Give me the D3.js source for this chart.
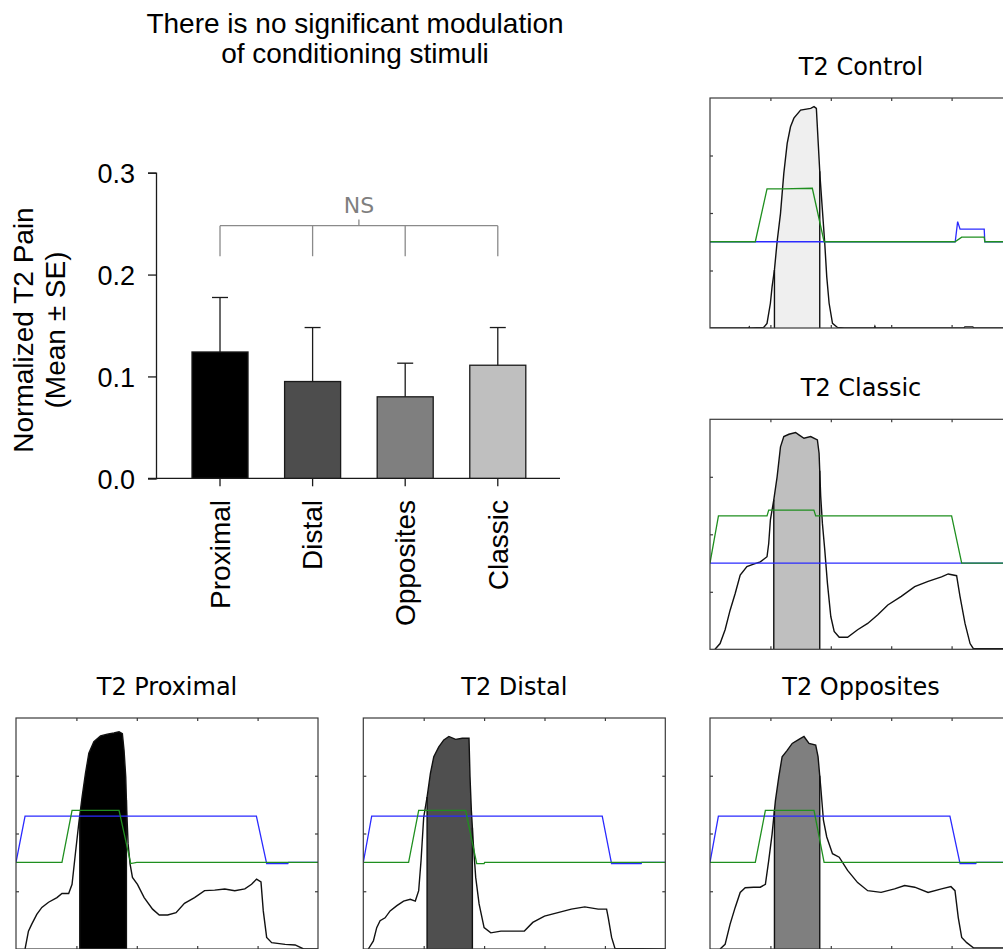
<!DOCTYPE html>
<html><head><meta charset="utf-8">
<script src="https://cdn.jsdelivr.net/npm/d3@7"></script>
<style>body{margin:0;background:#fff}svg{display:block}</style>
</head><body>
<svg id="c" width="1003" height="949"></svg>
<script>
// ---------- bar chart data ----------
const categories = ["Proximal", "Distal", "Opposites", "Classic"];
const means = [0.124, 0.095, 0.080, 0.111];
const errors = [0.0535, 0.053, 0.033, 0.037];
const barColors = ["#000000", "#4d4d4d", "#7f7f7f", "#bfbfbf"];
const yTicks = [0, 0.1, 0.2, 0.3];
const bracketLevels = [0.248, 0.218, 0.254]; // bar, drop bottoms, centre tick

// ---------- trace panels data (x: 0-5 units, y: 0-4 units) ----------
const controlPain = [[0,0],[0.639,0],[0.65,0.02],[0.66,0],[0.889,0.01],[0.944,0.08],[1.0,0.43],[1.028,0.72],[1.067,1.01],[1.111,1.50],[1.167,1.99],[1.222,2.69],[1.278,3.21],[1.333,3.50],[1.389,3.65],[1.5,3.79],[1.667,3.82],[1.722,3.85],[1.761,3.82],[1.789,3.27],[1.822,2.63],[1.861,2.05],[1.9,1.47],[1.933,0.89],[1.972,0.43],[2.028,0.08],[2.111,0.01],[2.222,0],[2.72,0],[2.73,0.03],[2.74,0],[4.2,0],[4.22,0.02],[4.35,0.02],[4.37,0],[5.1,0]];
const controlBlue = [[0,1.5],[4.06,1.5],[4.1,1.85],[4.14,1.72],[4.54,1.72],[4.55,1.5],[5.1,1.5]];
const controlGreen = [[0,1.5],[0.75,1.5],[0.944,2.42],[1.2,2.42],[1.694,2.43],[1.889,1.5],[4.056,1.5],[4.167,1.58],[4.54,1.58],[4.55,1.5],[5.1,1.5]];
const controlShade = [1.067, 1.817];

const classicPain = [[0.083,0],[0.167,0.10],[0.25,0.34],[0.333,0.68],[0.417,0.97],[0.5,1.29],[0.611,1.44],[0.722,1.48],[0.833,1.52],[0.944,1.61],[0.972,1.84],[1.0,2.25],[1.056,2.60],[1.111,3.0],[1.167,3.52],[1.222,3.70],[1.306,3.74],[1.417,3.77],[1.472,3.73],[1.556,3.67],[1.667,3.70],[1.778,3.64],[1.806,3.41],[1.833,2.66],[1.861,2.19],[1.9,1.73],[1.944,1.15],[2.0,0.57],[2.056,0.31],[2.139,0.21],[2.278,0.21],[2.444,0.34],[2.611,0.45],[2.778,0.60],[2.944,0.77],[3.167,0.92],[3.389,1.09],[3.611,1.18],[3.833,1.26],[3.944,1.31],[4.083,1.28],[4.139,0.92],[4.222,0.45],[4.306,0.10],[4.361,0.01],[5.1,0.01]];
const classicBlue = [[0,1.5],[5.1,1.5]];
const classicGreen = [[0,1.5],[0.14,2.32],[0.944,2.32],[0.972,2.42],[1.72,2.42],[1.75,2.32],[4.0,2.32],[4.167,1.5],[5.1,1.5]];
const classicShade = [1.056, 1.817];

const proximalPain = [[0.15,0],[0.206,0.31],[0.261,0.43],[0.344,0.60],[0.428,0.72],[0.539,0.81],[0.678,0.89],[0.761,0.96],[0.872,0.96],[0.928,1.12],[0.983,1.65],[1.039,2.17],[1.094,2.63],[1.15,3.04],[1.206,3.39],[1.289,3.59],[1.4,3.69],[1.511,3.72],[1.622,3.74],[1.706,3.76],[1.761,3.73],[1.789,3.44],[1.817,2.98],[1.833,2.40],[1.856,1.82],[1.889,1.47],[1.928,1.24],[2.011,1.12],[2.122,0.89],[2.261,0.69],[2.372,0.59],[2.511,0.59],[2.65,0.63],[2.789,0.79],[2.956,0.89],[3.122,1.01],[3.289,1.02],[3.456,1.04],[3.622,1.01],[3.789,1.04],[3.9,1.12],[3.983,1.21],[4.056,1.16],[4.094,0.66],[4.15,0.20],[4.233,0.11],[4.456,0.08],[4.622,0.07],[4.761,0],[5.1,0]];
const proximalBlue = [[0,1.5],[0.15,2.30],[3.98,2.30],[4.15,1.48],[4.5,1.48],[4.51,1.5],[5.1,1.5]];
const proximalGreen = [[0,1.5],[0.761,1.5],[0.928,2.40],[1.706,2.40],[1.9,1.48],[2.0,1.5],[5.1,1.5]];
const proximalShade = [1.056, 1.828];

const distalPain = [[0.083,0],[0.167,0.14],[0.222,0.37],[0.278,0.49],[0.361,0.54],[0.444,0.66],[0.556,0.75],[0.667,0.83],[0.778,0.86],[0.861,0.83],[0.917,1.01],[0.956,1.53],[1.0,2.28],[1.056,2.63],[1.111,3.04],[1.167,3.33],[1.25,3.50],[1.333,3.62],[1.417,3.68],[1.528,3.63],[1.639,3.65],[1.75,3.65],[1.767,2.98],[1.789,2.40],[1.822,1.82],[1.861,1.24],[1.917,0.78],[2.0,0.37],[2.111,0.28],[2.278,0.31],[2.444,0.31],[2.667,0.31],[2.806,0.46],[3.0,0.57],[3.222,0.63],[3.444,0.69],[3.667,0.73],[3.889,0.69],[4.028,0.69],[4.056,0.54],[4.111,0.20],[4.167,0.01],[5.1,0]];
const distalBlue = [[0,1.5],[0.139,2.30],[3.956,2.30],[4.11,1.48],[4.6,1.48],[4.61,1.5],[5.1,1.5]];
const distalGreen = [[0,1.5],[0.75,1.5],[0.917,2.40],[1.694,2.40],[1.878,1.48],[2.0,1.48],[2.01,1.5],[5.1,1.5]];
const distalShade = [1.056, 1.806];

const oppositesPain = [[0.167,0],[0.25,0.08],[0.333,0.43],[0.417,0.72],[0.5,0.98],[0.583,1.06],[0.722,1.07],[0.833,1.07],[0.917,1.12],[0.972,1.53],[1.028,1.99],[1.083,2.57],[1.139,2.98],[1.194,3.33],[1.278,3.44],[1.361,3.56],[1.472,3.63],[1.556,3.68],[1.639,3.56],[1.75,3.53],[1.789,3.33],[1.833,2.81],[1.878,2.23],[1.933,1.94],[2.028,1.65],[2.139,1.59],[2.278,1.36],[2.444,1.15],[2.611,1.01],[2.833,0.98],[3.056,1.04],[3.222,1.10],[3.389,1.07],[3.611,0.98],[3.833,1.04],[3.989,1.08],[4.056,1.01],[4.111,0.54],[4.167,0.20],[4.25,0.11],[4.361,0.02],[5.1,0.02]];
const oppositesBlue = [[0,1.5],[0.139,2.30],[3.972,2.30],[4.14,1.48],[4.4,1.48],[4.41,1.5],[5.1,1.5]];
const oppositesGreen = [[0,1.5],[0.75,1.5],[0.917,2.40],[1.722,2.40],[1.889,1.5],[5.1,1.5]];
const oppositesShade = [1.067, 1.817];

const panelTitles = ["T2 Control", "T2 Classic", "T2 Proximal", "T2 Distal", "T2 Opposites"];
const panelXTicks = [1, 2, 3, 4];
const panelYTicks = [1, 2, 3];

// ---------- drawing ----------
const svg = d3.select("#c");
const SANS = "'Liberation Sans', Arial, sans-serif";
const DEJA = "'DejaVu Sans', Verdana, sans-serif";
const INK = "#1a1a1a";

// Title
svg.append("text").attr("x", 355).attr("y", 33).attr("text-anchor", "middle")
  .attr("font-family", SANS).attr("font-size", 28).attr("fill", "#000")
  .text("There is no significant modulation");
svg.append("text").attr("x", 355).attr("y", 63).attr("text-anchor", "middle")
  .attr("font-family", SANS).attr("font-size", 28).attr("fill", "#000")
  .text("of conditioning stimuli");

// Bar chart
const x = d3.scaleBand().domain(categories).range([192, 525.8]).paddingInner(0.395).paddingOuter(0);
const y = d3.scaleLinear().domain([0, 0.3]).range([478.3, 172.7]);
const g = svg.append("g");

const yAxis = g.append("g").attr("transform", "translate(156,0)")
  .call(d3.axisLeft(y).tickValues(yTicks).tickFormat(d3.format(".1f")).tickSize(8).tickPadding(13));
yAxis.selectAll("path,line").attr("stroke", INK).attr("stroke-width", 1.3);
yAxis.selectAll("text").attr("font-family", SANS).attr("font-size", 27).attr("fill", "#000").attr("dy", "0.36em");

const xAxis = g.append("g").attr("transform", `translate(0,${y(0)})`)
  .call(d3.axisBottom(x).tickSize(8).tickSizeOuter(0));
xAxis.select(".domain").remove();
xAxis.selectAll("line").attr("stroke", INK).attr("stroke-width", 1.3);
xAxis.selectAll("text").attr("font-family", SANS).attr("font-size", 28).attr("fill", "#000")
  .attr("transform", "rotate(-90)").attr("text-anchor", "end")
  .attr("x", -(500 - y(0))).attr("y", 0).attr("dy", "0.35em");
g.append("line").attr("x1", 148).attr("x2", 560).attr("y1", y(0)).attr("y2", y(0))
  .attr("stroke", INK).attr("stroke-width", 1.3);

// Bars
g.selectAll("rect.bar").data(categories).join("rect").attr("class", "bar")
  .attr("x", d => x(d)).attr("width", x.bandwidth())
  .attr("y", (d, i) => y(means[i])).attr("height", (d, i) => y(0) - y(means[i]))
  .attr("fill", (d, i) => barColors[i]).attr("stroke", INK).attr("stroke-width", 1.3);

// Error bars (upper)
const cx = d => x(d) + x.bandwidth() / 2;
g.selectAll("line.err").data(categories).join("line").attr("class", "err")
  .attr("x1", cx).attr("x2", cx)
  .attr("y1", (d, i) => y(means[i])).attr("y2", (d, i) => y(means[i] + errors[i]))
  .attr("stroke", INK).attr("stroke-width", 1.3);
g.selectAll("line.cap").data(categories).join("line").attr("class", "cap")
  .attr("x1", d => cx(d) - 8).attr("x2", d => cx(d) + 8)
  .attr("y1", (d, i) => y(means[i] + errors[i])).attr("y2", (d, i) => y(means[i] + errors[i]))
  .attr("stroke", INK).attr("stroke-width", 1.3);

// NS bracket
const BR = "#8a8a8a";
const bx0 = cx(categories[0]), bx1 = cx(categories[categories.length - 1]);
g.append("line").attr("x1", bx0).attr("x2", bx1).attr("y1", y(bracketLevels[0])).attr("y2", y(bracketLevels[0]))
  .attr("stroke", BR).attr("stroke-width", 1.3);
g.selectAll("line.drop").data(categories).join("line").attr("class", "drop")
  .attr("x1", cx).attr("x2", cx).attr("y1", y(bracketLevels[0])).attr("y2", y(bracketLevels[1]))
  .attr("stroke", BR).attr("stroke-width", 1.3);
const bmid = (bx0 + bx1) / 2;
g.append("line").attr("x1", bmid).attr("x2", bmid).attr("y1", y(bracketLevels[0])).attr("y2", y(bracketLevels[2]))
  .attr("stroke", BR).attr("stroke-width", 1.3);
g.append("text").attr("x", bmid).attr("y", y(bracketLevels[2]) - 6.5).attr("text-anchor", "middle")
  .attr("font-family", DEJA).attr("font-size", 22).attr("fill", "#7f7f7f").text("NS");

// Y title
g.append("text").attr("transform", "translate(33,330) rotate(-90)").attr("text-anchor", "middle")
  .attr("font-family", SANS).attr("font-size", 28).attr("fill", "#000").text("Normalized T2 Pain");
g.append("text").attr("transform", "translate(65,330) rotate(-90)").attr("text-anchor", "middle")
  .attr("font-family", SANS).attr("font-size", 28).attr("fill", "#000").text("(Mean \u00b1 SE)");

// Panels
const panels = [
  {title: panelTitles[0], left: 710, top: 98, h: 230, pain: controlPain, blue: controlBlue, green: controlGreen, shade: controlShade, fill: "#efefef"},
  {title: panelTitles[1], left: 710, top: 419.3, h: 230, pain: classicPain, blue: classicBlue, green: classicGreen, shade: classicShade, fill: "#bfbfbf"},
  {title: panelTitles[2], left: 16, top: 718, h: 231, pain: proximalPain, blue: proximalBlue, green: proximalGreen, shade: proximalShade, fill: "#000000"},
  {title: panelTitles[3], left: 363.3, top: 718, h: 231, pain: distalPain, blue: distalBlue, green: distalGreen, shade: distalShade, fill: "#4f4f4f"},
  {title: panelTitles[4], left: 710, top: 718, h: 231, pain: oppositesPain, blue: oppositesBlue, green: oppositesGreen, shade: oppositesShade, fill: "#7f7f7f"}
];
const PW = 302;
const FRAME = "#3a3a3a";

function interp(pts, xv) {
  for (let i = 1; i < pts.length; i++) {
    if (pts[i][0] >= xv) {
      const [x0, y0] = pts[i - 1], [x1, y1] = pts[i];
      const t = (xv - x0) / (x1 - x0 || 1);
      return y0 + t * (y1 - y0);
    }
  }
  return pts[pts.length - 1][1];
}

panels.forEach((p, k) => {
  const xs = d3.scaleLinear().domain([0, 5]).range([p.left, p.left + PW]);
  const ys = d3.scaleLinear().domain([0, 4]).range([p.top + p.h, p.top]);
  const pg = svg.append("g");
  const clipId = "clip" + k, shadeId = "shade" + k;
  const defs = svg.append("defs");
  defs.append("clipPath").attr("id", clipId).append("rect")
    .attr("x", p.left).attr("y", p.top).attr("width", PW).attr("height", p.h);
  defs.append("clipPath").attr("id", shadeId).append("rect")
    .attr("x", xs(p.shade[0])).attr("y", p.top).attr("width", xs(p.shade[1]) - xs(p.shade[0])).attr("height", p.h);

  pg.append("text").attr("x", p.left + PW / 2).attr("y", p.top - 23).attr("text-anchor", "middle")
    .attr("font-family", DEJA).attr("font-size", 24).attr("fill", "#000").text(p.title);

  const inner = pg.append("g").attr("clip-path", `url(#${clipId})`);
  // shaded window
  const area = d3.area().x(d => xs(d[0])).y0(ys(0)).y1(d => ys(d[1]));
  inner.append("path").datum(p.pain).attr("d", area).attr("fill", p.fill)
    .attr("clip-path", `url(#${shadeId})`);
  p.shade.forEach(sx => {
    inner.append("line").attr("x1", xs(sx)).attr("x2", xs(sx)).attr("y1", ys(0)).attr("y2", ys(interp(p.pain, sx)))
      .attr("stroke", "#111").attr("stroke-width", 1.4);
  });
  const line = d3.line().x(d => xs(d[0])).y(d => ys(d[1]));
  inner.append("path").datum(p.pain).attr("d", line).attr("fill", "none").attr("stroke", "#111").attr("stroke-width", 1.4);
  inner.append("path").datum(p.blue).attr("d", line).attr("fill", "none").attr("stroke", "#2a2aff").attr("stroke-width", 1.3);
  inner.append("path").datum(p.green).attr("d", line).attr("fill", "none").attr("stroke", "#1f8f1f").attr("stroke-width", 1.3);

  // frame + inward ticks
  pg.append("rect").attr("x", p.left).attr("y", p.top).attr("width", PW).attr("height", p.h)
    .attr("fill", "none").attr("stroke", FRAME).attr("stroke-width", 1.2);
  const tk = [
    d3.axisTop(xs).tickValues(panelXTicks).tickSize(-3).tickFormat(""),
    d3.axisBottom(xs).tickValues(panelXTicks).tickSize(-3).tickFormat(""),
    d3.axisLeft(ys).tickValues(panelYTicks).tickSize(-3).tickFormat(""),
    d3.axisRight(ys).tickValues(panelYTicks).tickSize(-3).tickFormat("")
  ];
  const tr = [`translate(0,${p.top})`, `translate(0,${p.top + p.h})`, `translate(${p.left},0)`, `translate(${p.left + PW},0)`];
  tk.forEach((ax, j) => {
    const a = pg.append("g").attr("transform", tr[j]).call(ax);
    a.select(".domain").remove();
    a.selectAll("line").attr("stroke", FRAME).attr("stroke-width", 1.2);
  });
});
</script>
</body></html>
